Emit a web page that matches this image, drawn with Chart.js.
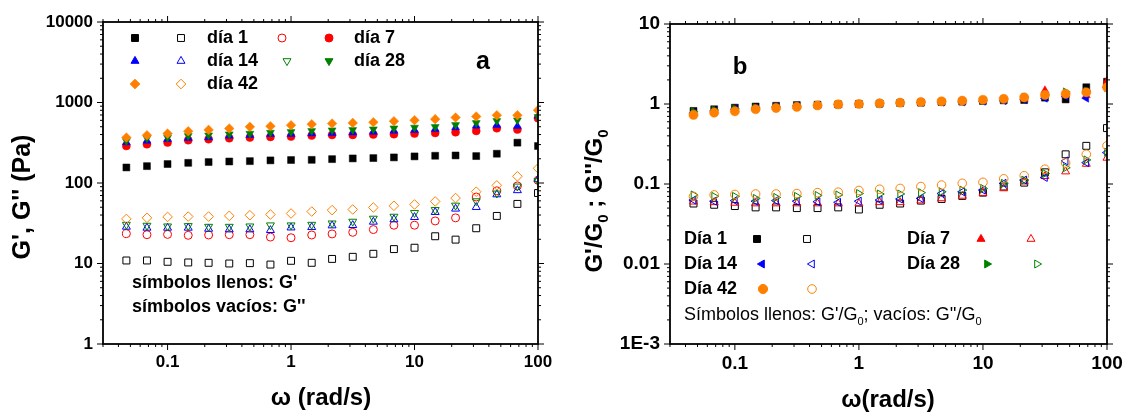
<!DOCTYPE html>
<html><head><meta charset="utf-8">
<script src="https://cdn.jsdelivr.net/npm/chart.js@4.4.1/dist/chart.umd.min.js"></script>
<style>
html,body{margin:0;padding:0;background:#fff;}
#wrap{position:relative;width:1126px;height:412px;overflow:hidden;}
#boxA{position:absolute;left:0;top:0;width:560px;height:412px;}
#boxB{position:absolute;left:560px;top:0;width:566px;height:412px;}
</style></head><body>
<div id="wrap">
<div id="boxA"><canvas id="chartA" width="560" height="412"></canvas></div>
<div id="boxB"><canvas id="chartB" width="566" height="412"></canvas></div>
</div>
<script>
// ---------- data ----------
const omega = [0.0464,0.0681,0.1,0.147,0.215,0.316,0.464,0.681,1,1.47,2.15,3.16,4.64,6.81,10,14.7,21.5,31.6,46.4,68.1,100];

// Panel a: G' and G'' (Pa)
const gp_d1  = [156,162,172,178,182,185,187,191,193,194,198,202,204,208,214,218,220,216,231,317,288];
const gpp_d1 = [10.9,10.9,10.5,10.3,10.2,10.0,10.1,9.7,10.8,10.2,11.4,12.1,13.2,15.1,15.7,21.8,19.8,27.4,39,55,75];
const gp_d7  = [289,303,318,340,350,360,367,374,377,388,396,396,400,404,411,419,427,444,479,461,638];
const gpp_d7 = [23.5,22.8,23,22.4,22.6,22.8,22.8,21.3,20.9,22.6,23.3,24.4,26.4,29.9,29.9,33.8,36.9,67,80,92,108];
const gp_d14  = [318,333,350,360,367,385,392,404,404,411,415,423,431,444,453,466,489,513,522,508,682];
const gpp_d14 = [28.5,27.7,27.7,27.7,26.9,26.4,26.4,25.9,27.9,28.2,29.6,29.9,32.9,35.2,37.6,43.4,47.8,50.1,72,81,111];
const gp_d28  = [333,360,367,385,392,404,411,423,431,444,453,457,466,479,489,498,527,558,591,603,663];
const gpp_d28 = [30.4,29.6,29,29.3,28.7,28.7,29,29.9,29.9,30.4,31.6,33.2,36.2,38.3,42.6,46.4,52.6,59.6,74.3,90.8,106];
const gp_d42  = [367,392,411,440,457,475,498,508,522,537,548,558,569,586,603,621,651,670,695,695,803];
const gpp_d42 = [35.8,36.9,37.9,38.3,38.3,39.1,39.8,40.6,41.8,44.2,46,46.9,49.6,52.1,54.1,59,65,78,93.5,121,152];

// Panel b: G'/G0 and G''/G0
const np_d1  = [0.82,0.86,0.90,0.93,0.95,0.97,0.98,0.99,1.00,1.01,1.03,1.04,1.06,1.07,1.09,1.11,1.12,1.20,1.14,1.62,1.90];
const npp_d1 = [0.057,0.055,0.053,0.051,0.051,0.050,0.050,0.051,0.048,0.055,0.057,0.062,0.065,0.071,0.078,0.093,0.104,0.14,0.235,0.30,0.50];
const np_d7  = [0.78,0.82,0.85,0.88,0.91,0.93,0.95,0.97,1.00,1.02,1.04,1.05,1.06,1.08,1.10,1.13,1.16,1.48,1.30,1.28,1.95];
const npp_d7 = [0.060,0.059,0.058,0.057,0.057,0.057,0.057,0.057,0.057,0.059,0.059,0.062,0.066,0.071,0.077,0.088,0.107,0.125,0.143,0.178,0.212];
const np_d14  = [0.77,0.82,0.86,0.89,0.92,0.95,0.97,0.99,1.00,1.01,1.03,1.04,1.05,1.06,1.08,1.10,1.13,1.18,1.25,1.18,1.62];
const npp_d14 = [0.063,0.061,0.062,0.061,0.062,0.061,0.060,0.059,0.061,0.063,0.065,0.066,0.076,0.080,0.084,0.102,0.112,0.121,0.194,0.185,0.247];
const np_d28  = [0.80,0.84,0.87,0.90,0.92,0.94,0.96,0.98,1.00,1.02,1.04,1.05,1.07,1.09,1.11,1.14,1.22,1.30,1.42,1.45,1.60];
const npp_d28 = [0.073,0.070,0.070,0.066,0.068,0.070,0.072,0.073,0.076,0.075,0.075,0.078,0.080,0.084,0.088,0.102,0.112,0.135,0.160,0.200,0.250];
const np_d42  = [0.73,0.78,0.81,0.86,0.89,0.92,0.96,0.99,1.00,1.02,1.04,1.06,1.08,1.10,1.13,1.16,1.21,1.30,1.34,1.40,1.62];
const npp_d42 = [0.070,0.073,0.074,0.075,0.075,0.076,0.078,0.079,0.083,0.086,0.088,0.093,0.097,0.102,0.105,0.116,0.127,0.153,0.183,0.235,0.300];

// ticks
const xTickVals = [0.1,1,10,100];
const xTickLabels = ['0.1','1','10','100'];
const yTickValsA = [1,10,100,1000,10000];
const yTickLabelsA = ['1','10','100','1000','10000'];
const yTickValsB = [0.001,0.01,0.1,1,10];
const yTickLabelsB = ['1E-3','0.01','0.1','1','10'];

// legend texts
const legendA = ['día 1','día 7','día 14','día 28','día 42'];
const legendB = ['Día 1','Día 7','Día 14','Día 28','Día 42'];

// ---------- styles ----------
const BLACK='#000000', RED='#ff0000', BLUE='#0000ff', GREEN='#008000', ORANGE='#ff8000';
const FONT = '"Liberation Sans", Arial, sans-serif';

function pts(vals){ return omega.map((x,i)=>({x:x, y:vals[i]})); }
function ds(label, vals, color, style, rot, filled, r, order){
  return {
    label: label, data: pts(vals), showLine:false, order: order,
    pointStyle: style, pointRotation: rot, pointRadius: r, pointHoverRadius: r,
    pointBackgroundColor: filled ? color : 'rgba(0,0,0,0)',
    pointBorderColor: color, pointBorderWidth: filled ? 0.5 : 1
  };
}

function logLabel(vals, labels){
  return function(value){
    const i = vals.findIndex(v=>Math.abs(Math.log10(v)-Math.log10(value))<1e-6);
    return i>=0 ? labels[i] : '';
  };
}

// own symbol drawer for the legend keys
function drawSym(ctx, style, rot, x, y, r, color, filled){
  ctx.save();
  ctx.beginPath();
  ctx.translate(x,y);
  ctx.rotate(rot*Math.PI/180);
  if(style==='rect'){ const s=Math.SQRT1_2*r; ctx.rect(-s,-s,2*s,2*s); }
  else if(style==='circle'){ ctx.arc(0,0,r,0,Math.PI*2); }
  else if(style==='rectRot'){ ctx.moveTo(0,-r); ctx.lineTo(r,0); ctx.lineTo(0,r); ctx.lineTo(-r,0); ctx.closePath(); }
  else if(style==='triangle'){
    for(let k=0;k<3;k++){ const a=k*2*Math.PI/3; const px=Math.sin(a)*r, py=-Math.cos(a)*r; if(k===0) ctx.moveTo(px,py); else ctx.lineTo(px,py);} ctx.closePath();
  }
  ctx.lineWidth = 1;
  ctx.strokeStyle = color;
  if(filled){ ctx.fillStyle=color; ctx.fill(); }
  ctx.stroke();
  ctx.restore();
}

function drawFrameTicks(chart){
  const ctx=chart.ctx, ca=chart.chartArea, xs=chart.scales.x, ys=chart.scales.y;
  ctx.save();
  ctx.strokeStyle='#000';
  ctx.lineWidth=1;
  function each(scale, cb){
    const lo=Math.floor(Math.log10(scale.min)), hi=Math.ceil(Math.log10(scale.max));
    for(let p=lo;p<=hi;p++){
      for(let m=1;m<=9;m++){
        const v=m*Math.pow(10,p);
        if(v<scale.min*0.9999 || v>scale.max*1.0001) continue;
        cb(scale.getPixelForValue(v), m===1);
      }
    }
  }
  ctx.beginPath();
  each(xs,(px,maj)=>{ const L=maj?6:3; ctx.moveTo(px,ca.bottom); ctx.lineTo(px,ca.bottom+L); ctx.moveTo(px,ca.top); ctx.lineTo(px,ca.top-L); });
  each(ys,(py,maj)=>{ const L=maj?6:3; ctx.moveTo(ca.left,py); ctx.lineTo(ca.left-L,py); ctx.moveTo(ca.right,py); ctx.lineTo(ca.right+L,py); });
  ctx.stroke();
  ctx.lineWidth=1.8;
  ctx.strokeRect(ca.left, ca.top, ca.right-ca.left, ca.bottom-ca.top);
  ctx.restore();
}

function text(ctx, s, x, y, font, align){
  ctx.font=font; ctx.fillStyle='#000'; ctx.textAlign=align||'left'; ctx.textBaseline='middle';
  ctx.fillText(s,x,y);
}
// draw runs of [string, isSub]
function runs(ctx, parts, x, y, size, weight, align){
  const subSize=Math.round(size*0.62);
  let w=0;
  parts.forEach(p=>{ ctx.font=weight+' '+(p[1]?subSize:size)+'px '+FONT; w+=ctx.measureText(p[0]).width; });
  let cx = align==='center' ? x-w/2 : x;
  ctx.fillStyle='#000'; ctx.textAlign='left'; ctx.textBaseline='middle';
  parts.forEach(p=>{
    ctx.font=weight+' '+(p[1]?subSize:size)+'px '+FONT;
    ctx.fillText(p[0], cx, y + (p[1]? size*0.38 : 0));
    cx += ctx.measureText(p[0]).width;
  });
}

function commonOptions(yVals, yLabels, yMin, yMax, yWidth, pad, tickSize){
  return {
    responsive:false, animation:false, events:[], devicePixelRatio:1,
    layout:{padding:pad},
    plugins:{legend:{display:false}, tooltip:{enabled:false}},
    scales:{
      x:{type:'logarithmic', min:0.03, max:100, position:'bottom',
         afterBuildTicks:(s)=>{ s.ticks = xTickVals.map(v=>({value:v, major:true})); },
         afterFit:(s)=>{ s.height = 68; },
         grid:{display:false, drawTicks:true, tickLength:6}, border:{display:false},
         ticks:{autoSkip:false, maxRotation:0, padding:2, color:'#000', font:{family:FONT, size:tickSize, weight:'bold'},
                callback: logLabel(xTickVals, xTickLabels)}},
      y:{type:'logarithmic', min:yMin, max:yMax, position:'left',
         afterBuildTicks:(s)=>{ s.ticks = yVals.map(v=>({value:v, major:true})); },
         afterFit:(s)=>{ s.width = yWidth; },
         grid:{display:false, drawTicks:true, tickLength:6}, border:{display:false},
         ticks:{autoSkip:false, padding:4, color:'#000', font:{family:FONT, size:tickSize, weight:'bold'},
                callback: logLabel(yVals, yLabels)}}
    }
  };
}

// ---------- chart a ----------
const rA = 4.6;
const dataA = { datasets:[
  ds("G' "+legendA[4], gp_d42, ORANGE,'rectRot',0,true,4.8,0),
  ds("G' "+legendA[3], gp_d28, GREEN,'triangle',180,true,rA,1),
  ds("G' "+legendA[2], gp_d14, BLUE,'triangle',0,true,rA,2),
  ds("G' "+legendA[1], gp_d7, RED,'circle',0,true,4.0,3),
  ds("G' "+legendA[0], gp_d1, BLACK,'rect',0,true,4.9,4),
  ds("G'' "+legendA[4], gpp_d42, ORANGE,'rectRot',0,false,4.8,5),
  ds("G'' "+legendA[3], gpp_d28, GREEN,'triangle',180,false,rA,6),
  ds("G'' "+legendA[2], gpp_d14, BLUE,'triangle',0,false,rA,7),
  ds("G'' "+legendA[1], gpp_d7, RED,'circle',0,false,4.0,8),
  ds("G'' "+legendA[0], gpp_d1, BLACK,'rect',0,false,4.9,9)
]};

const decoA = { id:'decoA', afterDraw(chart){
  const ctx=chart.ctx;
  drawFrameTicks(chart);
  const fL='bold 18px '+FONT;
  // legend
  const rows=[38,61,84];
  drawSym(ctx,'rect',0,135,rows[0],4.9,BLACK,true);
  drawSym(ctx,'rect',0,181,rows[0],4.9,BLACK,false);
  text(ctx,legendA[0],207,rows[0],fL);
  drawSym(ctx,'circle',0,282,rows[0],4.0,RED,false);
  drawSym(ctx,'circle',0,329,rows[0],4.0,RED,true);
  text(ctx,legendA[1],354,rows[0],fL);
  drawSym(ctx,'triangle',0,135,rows[1],rA,BLUE,true);
  drawSym(ctx,'triangle',0,181,rows[1],rA,BLUE,false);
  text(ctx,legendA[2],207,rows[1],fL);
  drawSym(ctx,'triangle',180,287,rows[1],rA,GREEN,false);
  drawSym(ctx,'triangle',180,329,rows[1],rA,GREEN,true);
  text(ctx,legendA[3],354,rows[1],fL);
  drawSym(ctx,'rectRot',0,135,rows[2],4.8,ORANGE,true);
  drawSym(ctx,'rectRot',0,181,rows[2],4.8,ORANGE,false);
  text(ctx,legendA[4],207,rows[2],fL);
  text(ctx,'a',483,62,'bold 25px '+FONT,'center');
  text(ctx,"símbolos llenos: G'",132,283,'bold 18px '+FONT);
  text(ctx,"símbolos vacíos: G''",132,307,'bold 18px '+FONT);
  // axis titles
  text(ctx,'ω (rad/s)',321,398,'bold 24px '+FONT,'center');
  ctx.save(); ctx.translate(23,197); ctx.rotate(-Math.PI/2);
  text(ctx,"G', G'' (Pa)",0,0,'bold 25px '+FONT,'center');
  ctx.restore();
}};

new Chart(document.getElementById('chartA'), {
  type:'scatter', data:dataA,
  options: commonOptions(yTickValsA, yTickLabelsA, 1, 10000, 103, {left:0,right:22,top:22,bottom:0}, 17),
  plugins:[decoA]
});

// ---------- chart b ----------
const rB = 4.6;
const dataB = { datasets:[
  ds("G'/G0 "+legendB[4], np_d42, ORANGE,'circle',0,true,4.6,0),
  ds("G'/G0 "+legendB[3], np_d28, GREEN,'triangle',90,true,rB,1),
  ds("G'/G0 "+legendB[2], np_d14, BLUE,'triangle',-90,true,rB,2),
  ds("G'/G0 "+legendB[1], np_d7, RED,'triangle',0,true,rB,3),
  ds("G'/G0 "+legendB[0], np_d1, BLACK,'rect',0,true,4.9,4),
  ds("G''/G0 "+legendB[4], npp_d42, ORANGE,'circle',0,false,4.3,5),
  ds("G''/G0 "+legendB[3], npp_d28, GREEN,'triangle',90,false,rB,6),
  ds("G''/G0 "+legendB[2], npp_d14, BLUE,'triangle',-90,false,rB,7),
  ds("G''/G0 "+legendB[1], npp_d7, RED,'triangle',0,false,rB,8),
  ds("G''/G0 "+legendB[0], npp_d1, BLACK,'rect',0,false,4.9,9)
]};

const decoB = { id:'decoB', afterDraw(chart){
  const ctx=chart.ctx;
  drawFrameTicks(chart);
  const fL='bold 18px '+FONT;
  const rows=[239,264,289];
  text(ctx,legendB[0],124,rows[0],fL);
  drawSym(ctx,'rect',0,197,rows[0],4.9,BLACK,true);
  drawSym(ctx,'rect',0,247,rows[0],4.9,BLACK,false);
  text(ctx,legendB[1],347,rows[0],fL);
  drawSym(ctx,'triangle',0,421,rows[0],rB,RED,true);
  drawSym(ctx,'triangle',0,471,rows[0],rB,RED,false);
  text(ctx,legendB[2],124,rows[1],fL);
  drawSym(ctx,'triangle',-90,202,rows[1],rB,BLUE,true);
  drawSym(ctx,'triangle',-90,252,rows[1],rB,BLUE,false);
  text(ctx,legendB[3],347,rows[1],fL);
  drawSym(ctx,'triangle',90,427,rows[1],rB,GREEN,true);
  drawSym(ctx,'triangle',90,477,rows[1],rB,GREEN,false);
  text(ctx,legendB[4],124,rows[2],fL);
  drawSym(ctx,'circle',0,203,rows[2],4.6,ORANGE,true);
  drawSym(ctx,'circle',0,252,rows[2],4.3,ORANGE,false);
  runs(ctx,[["Símbolos llenos: G'/G",false],["0",true],["; vacíos: G''/G",false],["0",true]],124,315,18,'normal','left');
  text(ctx,'b',180,67,'bold 24px '+FONT,'center');
  text(ctx,'ω(rad/s)',328,400,'bold 24px '+FONT,'center');
  ctx.save(); ctx.translate(35,201); ctx.rotate(-Math.PI/2);
  runs(ctx,[["G'/G",false],["0",true],[" ; G''/G",false],["0",true]],0,0,24,'bold','center');
  ctx.restore();
}};

new Chart(document.getElementById('chartB'), {
  type:'scatter', data:dataB,
  options: commonOptions(yTickValsB, yTickLabelsB, 0.001, 10, 110, {left:0,right:19,top:24,bottom:0}, 19),
  plugins:[decoB]
});
</script>
</body></html>
